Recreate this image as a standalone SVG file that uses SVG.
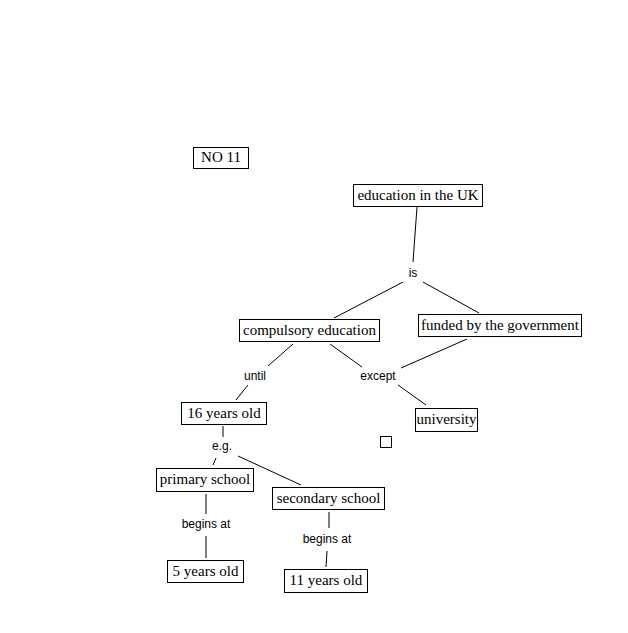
<svg xmlns="http://www.w3.org/2000/svg" width="628" height="633" viewBox="0 0 628 633">
<style>
.box{fill:#fff;stroke:#000;stroke-width:1}
.nt{font-family:"Liberation Serif","Times New Roman",serif;font-size:15px;fill:#000;text-anchor:middle;dominant-baseline:central}
.lt{font-family:"Liberation Sans",Arial,sans-serif;font-size:12px;fill:#000;text-anchor:middle;dominant-baseline:central}
.cn line{stroke:#000;stroke-width:1}
</style>
<rect width="628" height="633" fill="#fff"/>
<g id="connectors" class="cn">
<line x1="417" y1="207" x2="413" y2="262"/>
<line x1="403" y1="282" x2="334" y2="318"/>
<line x1="423" y1="282" x2="479" y2="313"/>
<line x1="293" y1="344" x2="268" y2="366"/>
<line x1="330" y1="344" x2="362" y2="367"/>
<line x1="467" y1="339" x2="401" y2="368"/>
<line x1="398" y1="385" x2="426" y2="405"/>
<line x1="248" y1="385" x2="236" y2="400"/>
<line x1="223" y1="426" x2="223" y2="437"/>
<line x1="216" y1="458" x2="213" y2="465"/>
<line x1="238" y1="456" x2="301" y2="485"/>
<line x1="206" y1="494" x2="206" y2="514"/>
<line x1="206" y1="536" x2="206" y2="558"/>
<line x1="329" y1="512" x2="329" y2="528"/>
<line x1="327" y1="551" x2="326" y2="567"/>
</g>
<g id="no11"><rect class="box" x="193.5" y="147.5" width="55" height="21"/><text class="nt" x="221" y="157">NO 11</text></g>
<g id="edu"><rect class="box" x="353.5" y="184.5" width="129" height="22"/><text class="nt" x="418" y="194.5">education in the UK</text></g>
<g id="is"><text class="lt" x="413" y="273">is</text></g>
<g id="compulsory"><rect class="box" x="239.5" y="319.5" width="140" height="22"/><text class="nt" x="309.5" y="329.5">compulsory education</text></g>
<g id="funded"><rect class="box" x="418.5" y="314.5" width="163" height="22"/><text class="nt" x="500" y="324.5">funded by the government</text></g>
<g id="until"><text class="lt" x="255" y="376">until</text></g>
<g id="except"><text class="lt" x="378" y="376">except</text></g>
<g id="sixteen"><rect class="box" x="181.5" y="402.5" width="85" height="22"/><text class="nt" x="224" y="412.5">16 years old</text></g>
<g id="university"><rect class="box" x="415.5" y="408.5" width="62" height="23"/><text class="nt" x="446.5" y="419">university</text></g>
<g id="empty"><rect class="box" x="380.5" y="436.5" width="11" height="11"/></g>
<g id="eg"><text class="lt" x="222" y="446">e.g.</text></g>
<g id="primary"><rect class="box" x="156.5" y="468.5" width="97" height="23"/><text class="nt" x="205" y="479">primary school</text></g>
<g id="secondary"><rect class="box" x="272.5" y="487.5" width="112" height="22"/><text class="nt" x="328.5" y="497.5">secondary school</text></g>
<g id="begins1"><text class="lt" x="206" y="524">begins at</text></g>
<g id="begins2"><text class="lt" x="327" y="539">begins at</text></g>
<g id="five"><rect class="box" x="167.5" y="560.5" width="76" height="22"/><text class="nt" x="205.5" y="570.5">5 years old</text></g>
<g id="eleven"><rect class="box" x="284.5" y="569.5" width="83" height="23"/><text class="nt" x="326" y="580">11 years old</text></g>
</svg>
